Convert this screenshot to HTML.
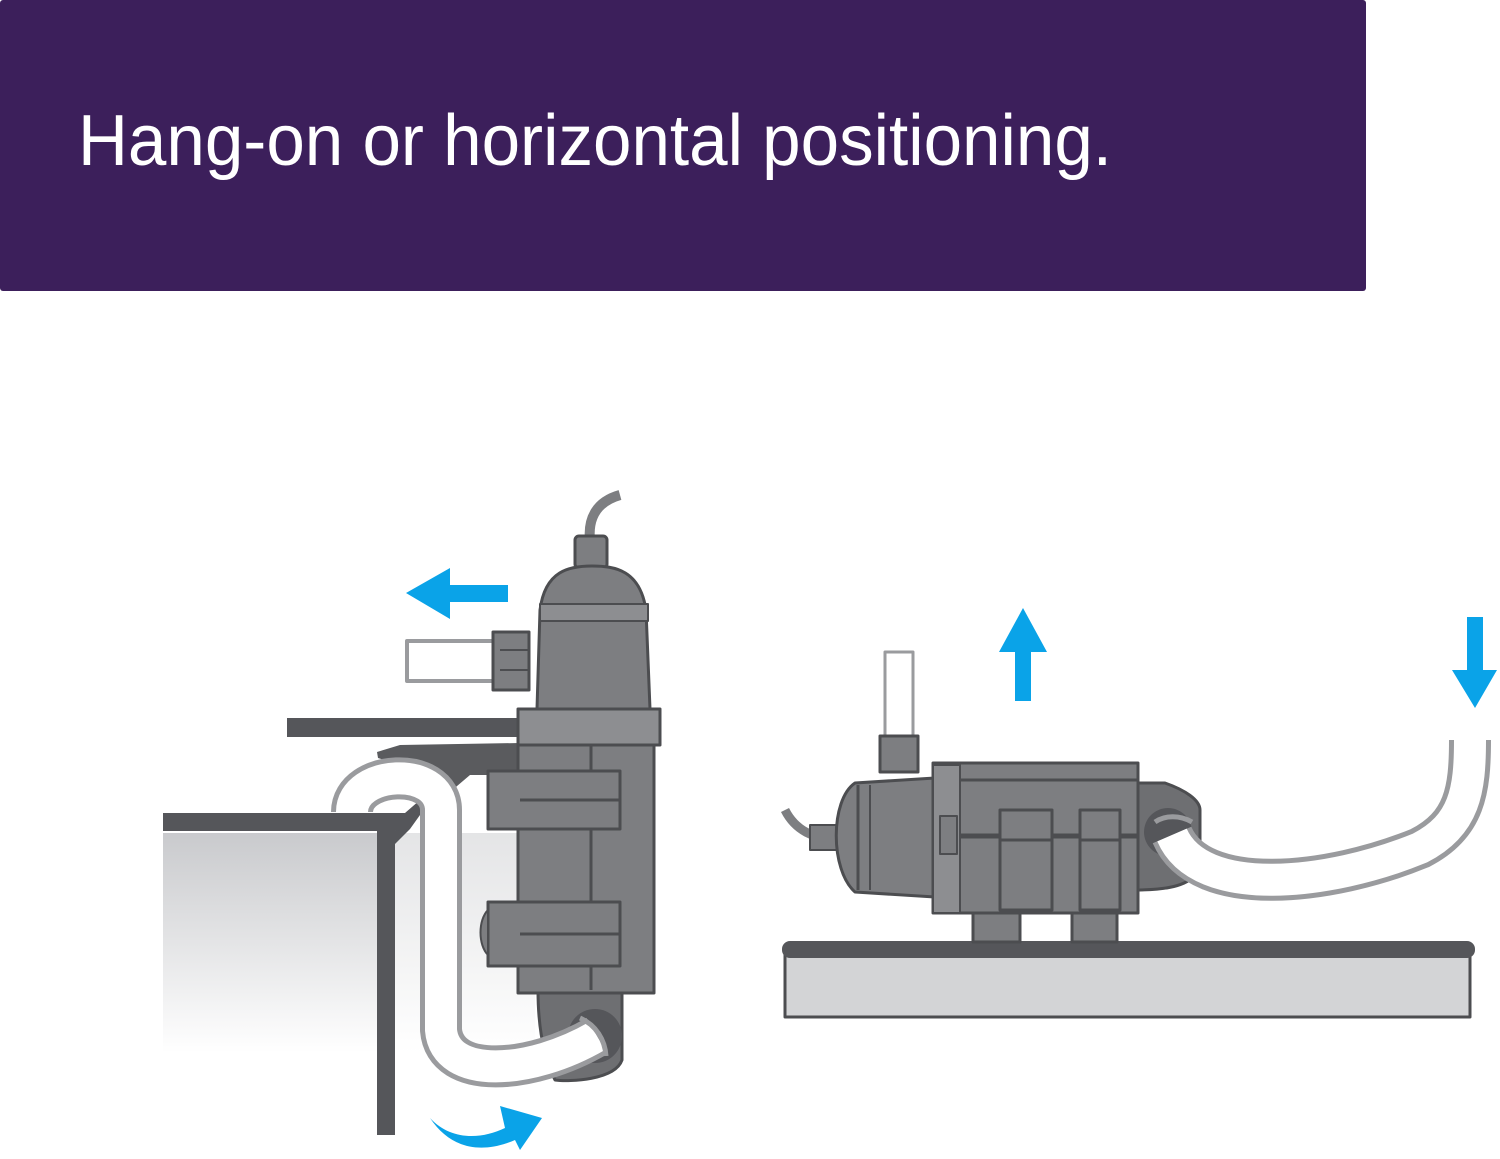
<!DOCTYPE html>
<html><head><meta charset="utf-8"><style>
html,body{margin:0;padding:0;background:#fff;width:1500px;height:1159px;overflow:hidden}
svg{display:block}
</style></head><body>
<svg width="1500" height="1159" viewBox="0 0 1500 1159" xmlns="http://www.w3.org/2000/svg">
<defs>
<linearGradient id="glass" x1="0" y1="0" x2="0" y2="1">
<stop offset="0" stop-color="#c9cacd"/><stop offset="1" stop-color="#ffffff"/>
</linearGradient>
</defs>
<rect x="0" y="0" width="1366" height="291" rx="3" fill="#3c1f5b"/>
<text x="78" y="165" font-family="'Liberation Sans Narrow','Liberation Sans',sans-serif" font-size="72" fill="#fff" textLength="1034" lengthAdjust="spacingAndGlyphs">Hang-on or horizontal positioning.</text>

<g stroke="#4c4d50" stroke-linejoin="round">
<!-- tank -->
<rect x="163" y="833" width="214" height="220" fill="url(#glass)" stroke="none"/>
<rect x="395" y="833" width="140" height="220" fill="url(#glass)" stroke="none" opacity="0.5"/>
<rect x="163" y="813" width="232" height="18" fill="#55565a" stroke="none"/>
<polygon points="377,831 395,831 410,816 410,829 395,844 395,1135 377,1135" fill="#55565a" stroke="none"/>
<polygon points="395,813 405,813 420,800 420,815 410,829 395,831" fill="#55565a" stroke="none"/>
<!-- shelf -->
<rect x="287" y="718" width="235" height="19" fill="#55565a" stroke="none"/>
<path d="M377,752 L400,745 L520,743 L520,775 L470,775 L450,792 L430,775 L378,758 Z" fill="#5a5b5e" stroke="none"/>
<!-- outlet pipe -->
<rect x="407" y="641" width="90" height="40" fill="#fff" stroke="#9a9b9e" stroke-width="4"/>
<rect x="493" y="632" width="36" height="58" fill="#7d7e81" stroke-width="3"/>
<line x1="500" y1="650" x2="528" y2="650" stroke-width="2"/>
<line x1="500" y1="670" x2="528" y2="670" stroke-width="2"/>
<!-- cable -->
<path d="M620,495 C595,502 588,520 590,540" fill="none" stroke="#7d7e81" stroke-width="10"/>
<rect x="575" y="536" width="32" height="32" rx="4" fill="#7d7e81" stroke-width="3"/>
<!-- body -->
<path d="M537,709 L540,610 C545,570 570,566 592,566 C615,566 640,570 646,610 L650,709 Z" fill="#7d7e81" stroke-width="3"/>
<rect x="540" y="604" width="108" height="17" fill="#8d8e91" stroke-width="2"/>
<path d="M538,990 L622,990 L622,1060 C615,1080 570,1082 555,1080 C545,1060 538,1030 538,990 Z" fill="#6e6f72" stroke-width="3"/>
<rect x="518" y="743" width="136" height="250" fill="#7d7e81" stroke-width="3"/>
<rect x="518" y="709" width="142" height="36" fill="#8d8e91" stroke-width="3"/>
<line x1="591" y1="745" x2="591" y2="990" stroke-width="3"/>
<rect x="488" y="771" width="132" height="58" fill="#7d7e81" stroke-width="3"/>
<rect x="488" y="902" width="132" height="64" fill="#7d7e81" stroke-width="3"/>
<line x1="520" y1="800" x2="620" y2="800" stroke-width="3"/>
<line x1="520" y1="934" x2="620" y2="934" stroke-width="3"/>
<path d="M488,910 C478,920 478,945 488,955 Z" fill="#7d7e81" stroke-width="2"/>
<circle cx="595" cy="1036" r="27" fill="#55565a" stroke="none"/>
<!-- hose left (in front) -->
<path d="M352,812 C352,770 441,765 441,810 L441,1030 C445,1080 530,1075 597,1036" fill="none" stroke="#9a9b9e" stroke-width="42"/>
<path d="M352,812 C352,770 441,765 441,810 L441,1030 C445,1080 530,1075 597,1036" fill="none" stroke="#fff" stroke-width="32"/>
<path d="M580,1018 C596,1025 605,1040 606,1056" fill="none" stroke="#9a9b9e" stroke-width="5"/>

<!-- right table -->
<rect x="785" y="955" width="685" height="62" fill="#d3d4d6" stroke-width="3"/>
<rect x="782" y="941" width="693" height="17" rx="8" fill="#55565a" stroke="none"/>
<!-- up pipe -->
<rect x="885" y="652" width="28" height="90" fill="#fff" stroke="#9a9b9e" stroke-width="3"/>
<rect x="880" y="736" width="38" height="36" fill="#7d7e81" stroke-width="3"/>
<!-- cable right -->
<path d="M785,810 C795,830 815,840 835,838" fill="none" stroke="#7d7e81" stroke-width="9"/>
<rect x="810" y="825" width="28" height="25" fill="#7d7e81" stroke-width="2"/>
<!-- feet -->
<rect x="973" y="905" width="47" height="37" fill="#7d7e81" stroke-width="3"/>
<rect x="1072" y="905" width="45" height="37" fill="#7d7e81" stroke-width="3"/>
<!-- end cap -->
<path d="M1136,783 L1165,783 C1185,790 1200,800 1200,810 L1200,870 C1190,885 1170,890 1136,890 Z" fill="#6e6f72" stroke-width="3"/>
<circle cx="1168" cy="832" r="24" fill="#55565a" stroke="none"/>
<!-- right hose -->
<path d="M1172,835 C1200,900 1330,885 1420,848 C1465,825 1470,790 1470,740" fill="none" stroke="#9a9b9e" stroke-width="42"/>
<path d="M1172,835 C1200,900 1330,885 1420,848 C1465,825 1470,790 1470,740" fill="none" stroke="#fff" stroke-width="32"/>
<path d="M1155,822 C1165,815 1180,815 1192,822" fill="none" stroke="#9a9b9e" stroke-width="5"/>
<!-- dome -->
<path d="M935,778 L855,783 C830,800 830,870 855,892 L935,897 Z" fill="#7d7e81" stroke-width="3"/>
<line x1="858" y1="785" x2="858" y2="890" stroke-width="3"/>
<line x1="870" y1="785" x2="870" y2="890" stroke-width="2"/>
<!-- main body -->
<rect x="933" y="763" width="205" height="150" fill="#7d7e81" stroke-width="3"/>
<rect x="933" y="765" width="27" height="148" fill="#8d8e91" stroke-width="2"/>
<rect x="940" y="816" width="17" height="38" fill="#7d7e81" stroke-width="2"/>
<line x1="960" y1="780" x2="1138" y2="780" stroke-width="3"/>
<line x1="960" y1="836" x2="1138" y2="836" stroke-width="5"/>
<rect x="1000" y="810" width="52" height="100" fill="#7d7e81" stroke-width="3"/>
<rect x="1080" y="810" width="40" height="100" fill="#7d7e81" stroke-width="3"/>
<line x1="1000" y1="840" x2="1052" y2="840" stroke-width="3"/>
<line x1="1080" y1="840" x2="1120" y2="840" stroke-width="3"/>
</g>

<!-- blue arrows -->
<g fill="#0aa3e8">
<polygon points="406,593 450,568 450,585 508,585 508,602 450,602 450,619"/>
<path d="M430,1118 C450,1140 480,1140 505,1128 L500,1106 L542,1118 L520,1150 L515,1140 C480,1155 450,1148 430,1118 Z"/>
<polygon points="1023,608 1047,652 1031,652 1031,701 1015,701 1015,652 999,652"/>
<polygon points="1475,708 1452,670 1467,670 1467,617 1483,617 1483,670 1497,670"/>
</g>
</svg>
</body></html>
